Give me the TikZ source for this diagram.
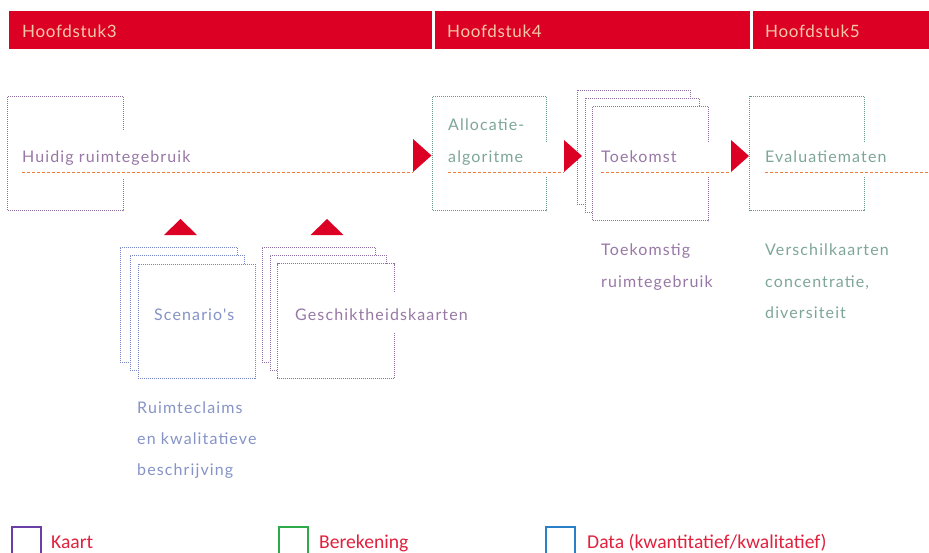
\documentclass[tikz,border=0pt]{standalone}
\usepackage{fontspec}
\setmainfont{Lato}
\newfontfamily\lblfont[LetterSpace=7]{Lato}
\newfontfamily\hdrfont[LetterSpace=4]{Lato}
\newfontfamily\legfont{Carlito}
\definecolor{hred}{HTML}{DC0025}
\definecolor{htext}{HTML}{F6C9A6}
\definecolor{kcol}{HTML}{9070A2}
\definecolor{bcol}{HTML}{669886}
\definecolor{dcol}{HTML}{7686C2}
\definecolor{ktxt}{HTML}{9878A6}
\definecolor{btxt}{HTML}{7DA698}
\definecolor{dtxt}{HTML}{8593C6}
\definecolor{ocol}{HTML}{F07A3A}
\definecolor{legred}{HTML}{E0203C}
\definecolor{legk}{HTML}{6A40A8}
\definecolor{legb}{HTML}{2EAA4A}
\definecolor{legd}{HTML}{2A80C8}
\tikzset{
  hdr/.style={fill=hred},
  hdrtxt/.style={anchor=base west, inner sep=0pt, text=htext, font=\hdrfont\fontsize{17}{17}\selectfont},
  kaart/.style={draw=kcol, line width=1pt, densely dotted},
  bere/.style={draw=bcol, line width=1pt, densely dotted},
  dat/.style={draw=dcol, line width=1pt, densely dotted},
  boxn/.style={draw=none, inner sep=0pt, minimum width=#1, minimum height=114pt},
  boxn/.default=115pt,
  lbl/.style={anchor=base west, inner sep=0pt, font=\lblfont\fontsize{16}{16}\selectfont},
  flow/.style={draw=ocol, line width=1pt, densely dashed},
  tip/.style={fill=hred},
  legbox/.style={draw=#1, line width=1.5pt, minimum width=29pt, minimum height=30pt, inner sep=0pt, anchor=north west},
  legtxt/.style={anchor=base west, inner sep=0pt, text=legred, font=\legfont\fontsize{19.6}{19.6}\selectfont},
}
\begin{document}
\begin{tikzpicture}[x=1pt,y=-1pt]
\useasboundingbox (0,0) rectangle (929,552);
% header bars
\fill[hdr] (9,10.5) rectangle (431.5,49);
\fill[hdr] (434.5,10.5) rectangle (749.5,49);
\fill[hdr] (752.5,10.5) rectangle (929,49);
\node[hdrtxt] (h3) at (22,37) {Hoofdstuk3};
\node[hdrtxt] (h4) at (447,37) {Hoofdstuk4};
\node[hdrtxt] (h5) at (765,37) {Hoofdstuk5};

% box 1: Huidig ruimtegebruik (Kaart)
\node[boxn] (b1) at (65.5,153.5) {};
\draw[kaart] ([yshift=23.5pt]b1.east) -- (b1.north east) -- (b1.north west) -- (b1.south west) -- (b1.south east) -- ([yshift=-24.5pt]b1.east);
\node[lbl, text=ktxt] (t1) at (22,162) {Huidig ruimtegebruik};

% box 2: Allocatie-algoritme (Berekening)
\node[boxn=113pt] (b2) at (489.5,153.5) {};
\draw[bere] ([yshift=11.5pt]b2.east) -- (b2.north east) -- (b2.north west) -- (b2.south west) -- (b2.south east) -- ([yshift=-23.5pt]b2.east);
\node[lbl, text=btxt] (t2a) at (448,130) {Allocatie-};
\node[lbl, text=btxt] (t2) at (448,162) {algoritme};

% Toekomst stack (Kaart)
\node[boxn=113pt, fill=white, kaart] (b3c) at (633.5,147) {};
\node[boxn=114pt, fill=white, kaart] (b3b) at (642,155) {};
\node[boxn=115pt, fill=white] (b3) at (650.5,163.5) {};
\draw[kaart] ([yshift=21.5pt]b3.east) -- (b3.north east) -- (b3.north west) -- (b3.south west) -- (b3.south east) -- ([yshift=-13.5pt]b3.east);
\node[lbl, text=ktxt] (t3) at (601,162) {Toekomst};

% box 4: Evaluatiematen (Berekening)
\node[boxn=114pt] (b4) at (807,153.5) {};
\draw[bere] ([yshift=11.5pt]b4.east) -- (b4.north east) -- (b4.north west) -- (b4.south west) -- (b4.south east) -- ([yshift=-23.5pt]b4.east);
\node[lbl, text=btxt] (t4) at (765,162) {Evaluatiematen};

% flow lines and arrow tips
\coordinate (a1) at (413,172);
\coordinate (a2) at (564,172);
\coordinate (a3) at (731,172);
\coordinate (a4) at (929,172);
\draw[flow] (t1.base west |- a1) -- (a1);
\draw[flow] (t2.base west |- a2) -- (a2);
\draw[flow] (t3.base west |- a3) -- (a3);
\draw[flow] (t4.base west |- a4) -- (a4);
\fill[tip] (a1) -- ++(0,-33) -- ++(18.5,16.5) -- cycle;
\fill[tip] (a2) -- ++(0,-32) -- ++(18,16) -- cycle;
\fill[tip] (a3) -- ++(0,-32) -- ++(18,16) -- cycle;

% up triangles
\coordinate (u1) at (180.5,219);
\coordinate (u2) at (327,219);
\fill[tip] (u1) -- ++(16.5,16) -- ++(-33,0) -- cycle;
\fill[tip] (u2) -- ++(16.5,16) -- ++(-33,0) -- cycle;

% Scenario's stack (Data)
\node[boxn=117pt, minimum height=115pt, fill=white, dat] (s3) at (178.5,304.5) {};
\node[boxn=114pt, minimum height=115pt, fill=white, dat] (s2) at (187,312.5) {};
\node[boxn=117pt, minimum height=114pt, fill=white, dat] (s1) at (196.5,321) {};
\node[lbl, text=dtxt] (ts) at (154,320) {Scenario's};

% Geschiktheidskaarten stack (Kaart)
\node[boxn=113pt, minimum height=115pt, fill=white, kaart] (g3) at (318.5,304.5) {};
\node[boxn=116pt, minimum height=115pt, fill=white, kaart] (g2) at (328,312.5) {};
\node[boxn=116pt, minimum height=114pt, fill=white] (g1) at (336,321) {};
\draw[kaart] ([yshift=29pt]g1.east) -- (g1.north east) -- (g1.north west) -- (g1.south west) -- (g1.south east) -- ([yshift=-11pt]g1.east);
\node[lbl, text=ktxt] (tg) at (295,320) {Geschiktheidskaarten};

% captions
\node[lbl, text=dtxt] (c1) at (137,413) {Ruimteclaims};
\node[lbl, text=dtxt] (c2) at (137,444) {en kwalitatieve};
\node[lbl, text=dtxt] (c3) at (137,475) {beschrijving};
\node[lbl, text=ktxt] (c4) at (601,255) {Toekomstig};
\node[lbl, text=ktxt] (c5) at (601,287) {ruimtegebruik};
\node[lbl, text=btxt] (c6) at (765,255) {Verschilkaarten};
\node[lbl, text=btxt] (c7) at (765,287) {concentratie,};
\node[lbl, text=btxt] (c8) at (765,318) {diversiteit};

% legend
\node[legbox=legk] (l1) at (11,526) {};
\node[legtxt] (lt1) at (51,548) {Kaart};
\node[legbox=legb] (l2) at (278,526) {};
\node[legtxt] (lt2) at (319,548) {Berekening};
\node[legbox=legd] (l3) at (545,526) {};
\node[legtxt] (lt3) at (587,548) {Data (kwantitatief/kwalitatief)};
\end{tikzpicture}
\end{document}
